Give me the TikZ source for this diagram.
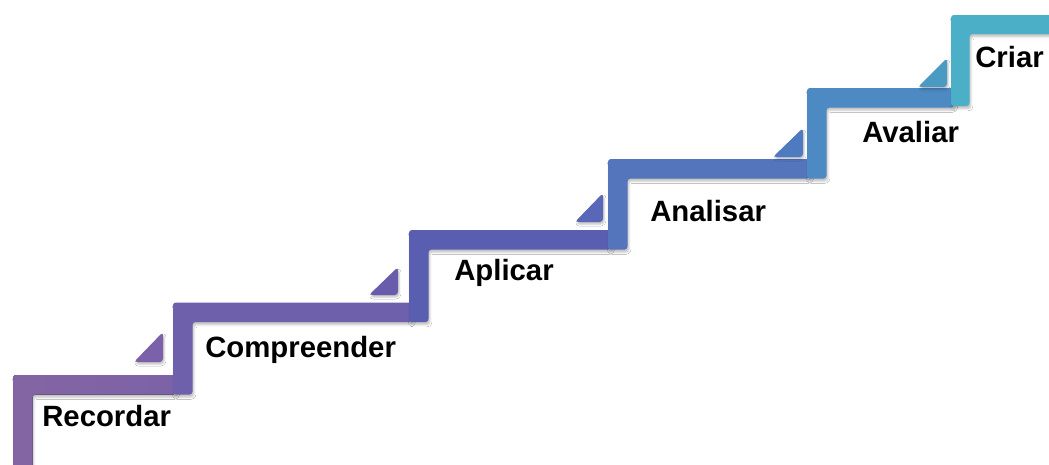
\documentclass[tikz,border=0pt]{standalone}
\usepackage{fontspec}
\setmainfont{Liberation Sans}
\usetikzlibrary{shadows.blur}
\definecolor{cA}{HTML}{8465A3}
\definecolor{cAb}{HTML}{7C62A7}
\definecolor{cB}{HTML}{6E60AA}
\definecolor{cC}{HTML}{5A5EB1}
\definecolor{cD}{HTML}{5474BB}
\definecolor{cE}{HTML}{4D8AC3}
\definecolor{cF}{HTML}{4AAFC7}
\definecolor{tA}{HTML}{7B61AA}
\definecolor{tB}{HTML}{6A5CAD}
\definecolor{tC}{HTML}{5A66B8}
\definecolor{tD}{HTML}{4E7BC0}
\definecolor{tE}{HTML}{4A9AC4}
\tikzset{
  stair/.style={rounded corners=2.2pt, blur shadow={shadow xshift=1pt, shadow yshift=-2pt, shadow blur radius=1.6pt, shadow opacity=25}},
  wedge/.style={rounded corners=2.5pt, blur shadow={shadow xshift=0.8pt, shadow yshift=-1.6pt, shadow blur radius=1.4pt, shadow opacity=25}},
  lab/.style={font=\bfseries\fontsize{22}{26}\selectfont, anchor=base west, inner sep=0pt}
}
\begin{document}
\begin{tikzpicture}[x=0.75pt,y=-0.75pt]
\useasboundingbox (0,0) rectangle (1049,464);
\fill[white] (0,0) rectangle (1049,464);
% step 1
\fill[stair, left color=cA, right color=cAb] (13,470) -- (13,375) -- (176,375) -- (176,394.5) -- (32.5,394.5) -- (32.5,470) -- cycle;
\fill[wedge, tA] (134,362) -- (163,362) -- (163,332) -- cycle;
% step 2
\fill[stair, cB] (173,394.5) -- (173,302.5) -- (412,302.5) -- (412,322) -- (192.5,322) -- (192.5,394.5) -- cycle;
\fill[wedge, tB] (369,295) -- (398,295) -- (398,267) -- cycle;
% step 3
\fill[stair, cC] (409,322) -- (409,230) -- (611,230) -- (611,249.5) -- (428.5,249.5) -- (428.5,322) -- cycle;
\fill[wedge, tC] (575,222) -- (603,222) -- (603,193) -- cycle;
% step 4
\fill[stair, cD] (608,249.5) -- (608,159) -- (810,159) -- (810,178.5) -- (627.5,178.5) -- (627.5,249.5) -- cycle;
\fill[wedge, tD] (773,157) -- (803,157) -- (803,128) -- cycle;
% step 5
\fill[stair, cE] (807,178.5) -- (807,88) -- (954,88) -- (954,107.5) -- (826.5,107.5) -- (826.5,178.5) -- cycle;
\fill[wedge, tE] (918,87) -- (947,87) -- (947,58) -- cycle;
% step 6
\fill[stair, cF] (951,106) -- (951,15) -- (1060,15) -- (1060,34) -- (969.5,34) -- (969.5,106) -- cycle;
% labels
\node[lab] (recordar) at (42,426) {Recordar};
\node[lab] (compreender) at (205,357) {Compreender};
\node[lab] (aplicar) at (454,280) {Aplicar};
\node[lab] (analisar) at (650,221) {Analisar};
\node[lab] (avaliar) at (862,142) {Avaliar};
\node[lab] (criar) at (975,67) {Criar};
\end{tikzpicture}
\end{document}
